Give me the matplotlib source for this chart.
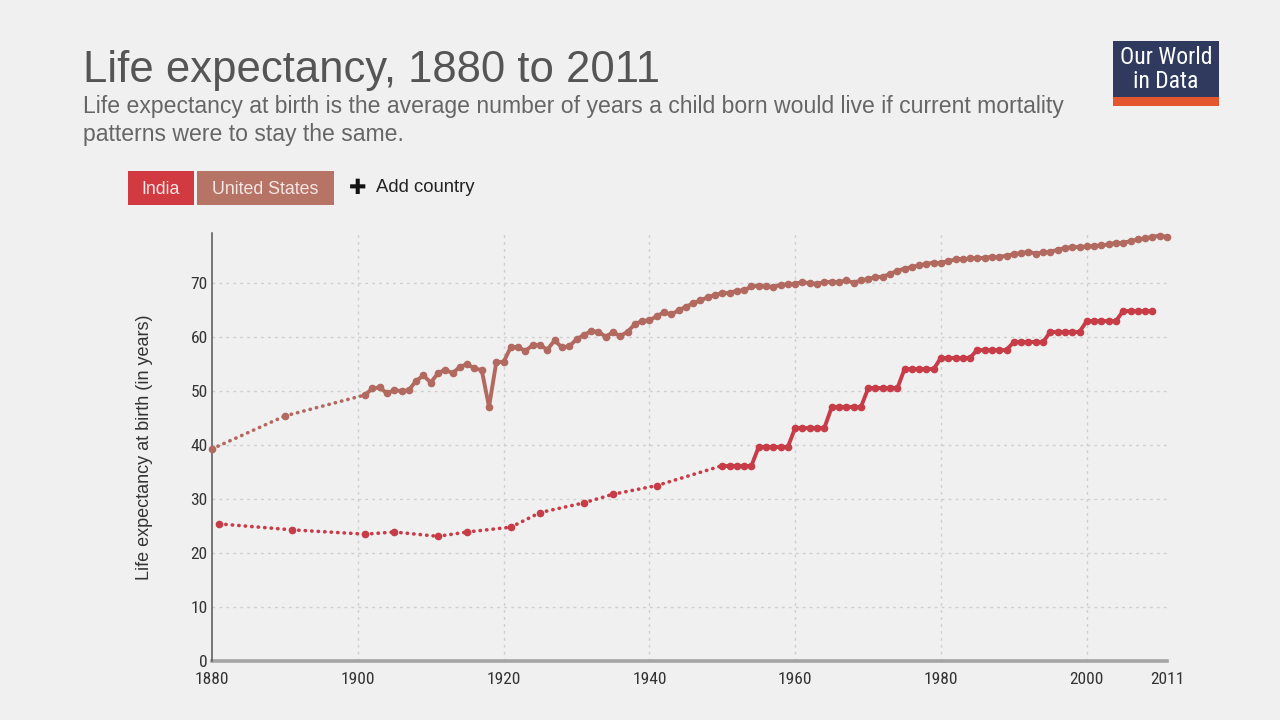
import matplotlib
matplotlib.use("Agg")
import matplotlib.pyplot as plt
from matplotlib.patches import Rectangle
from matplotlib import font_manager

# --- data ---
us_years = [1880, 1890] + list(range(1901, 2012))
us_values = [39.3, 45.4,
             49.3, 50.5, 50.7, 49.6, 50.2, 50.0, 50.2, 51.9, 52.9, 51.6,
             53.3, 54.0, 53.3, 54.5, 55.0, 54.2, 53.9, 47.1, 55.4, 55.4,
             58.2, 58.1, 57.5, 58.5, 58.5, 57.7, 59.4, 58.1, 58.3, 59.6,
             60.4, 61.1, 61.0, 60.1, 60.9, 60.2, 61.0, 62.4, 63.0, 63.1,
             63.9, 64.6, 64.2, 65.0, 65.6, 66.3, 66.8, 67.4, 67.8, 68.2,
             68.2, 68.6, 68.7, 69.4, 69.5, 69.4, 69.3, 69.7, 69.8, 69.9,
             70.2, 70.0, 69.9, 70.2, 70.2, 70.2, 70.5, 70.1, 70.5, 70.8,
             71.1, 71.2, 71.7, 72.3, 72.7, 73.0, 73.3, 73.6, 73.8, 73.8,
             74.1, 74.4, 74.4, 74.6, 74.7, 74.7, 74.9, 74.9, 75.1, 75.4,
             75.6, 75.8, 75.5, 75.7, 75.8, 76.2, 76.5, 76.7, 76.7, 76.8,
             76.9, 77.0, 77.2, 77.5, 77.5, 77.8, 78.1, 78.3, 78.6, 78.8,
             78.6]

india_years = [1881, 1891, 1901, 1905, 1911, 1915, 1921, 1925, 1931, 1935, 1941] + list(range(1950, 2010))
india_values = [25.4, 24.3, 23.5, 23.9, 23.1, 23.9, 24.8, 27.5, 29.3, 30.9, 32.5,
                36.2, 36.2, 36.2, 36.2, 36.2,
                39.7, 39.7, 39.7, 39.7, 39.7,
                43.2, 43.2, 43.2, 43.2, 43.2,
                47.0, 47.0, 47.0, 47.0, 47.0,
                50.5, 50.5, 50.5, 50.5, 50.5,
                54.1, 54.1, 54.1, 54.1, 54.1,
                56.2, 56.2, 56.2, 56.2, 56.2,
                57.7, 57.7, 57.7, 57.7, 57.7,
                59.1, 59.1, 59.1, 59.1, 59.1,
                61.0, 61.0, 61.0, 61.0, 61.0,
                63.0, 63.0, 63.0, 63.0, 63.0,
                64.9, 64.9, 64.9, 64.9, 64.9]

x_ticks = [1880, 1900, 1920, 1940, 1960, 1980, 2000, 2011]
y_ticks = [0, 10, 20, 30, 40, 50, 60, 70]

title = "Life expectancy, 1880 to 2011"
subtitle_lines = ["Life expectancy at birth is the average number of years a child born would live if current mortality",
                  "patterns were to stay the same."]

US_COLOR = "#b2695f"
INDIA_COLOR = "#c73c46"
BG = "#f0f0f0"

names = {f.name for f in font_manager.fontManager.ttflist}
NARROW = "Liberation Sans"
for cand in ["Liberation Sans Narrow", "Roboto Condensed", "Archivo Narrow", "PT Sans Narrow", "Arimo"]:
    if cand in names:
        NARROW = cand
        break
plt.rcParams["font.family"] = ["Liberation Sans", "DejaVu Sans"]


def draw_series(ax, years, values, color):
    # consecutive years get a solid line, gaps get a dotted one
    for i in range(len(years) - 1):
        x = [years[i], years[i + 1]]
        y = [values[i], values[i + 1]]
        if years[i + 1] - years[i] == 1:
            ax.plot(x, y, color=color, lw=2.8, solid_capstyle="round", zorder=3, clip_on=False)
        else:
            ax.plot(x, y, color=color, lw=2.6, ls=(0, (0.1, 1.7)), dash_capstyle="round",
                    zorder=3, clip_on=False)
    ax.plot(years, values, ls="none", marker="o", ms=4.5, color=color, zorder=4, clip_on=False)


fig = plt.figure(figsize=(12.8, 7.2), dpi=100, facecolor=BG)
ax = fig.add_axes([212 / 1280, 1 - 661 / 720, (1167 - 212) / 1280, (661 - 233) / 720])
ax.set_facecolor(BG)

draw_series(ax, us_years, us_values, US_COLOR)
draw_series(ax, india_years, india_values, INDIA_COLOR)

ax.set_xlim(1880, 2011)
ax.set_ylim(0, 79.3)
ax.set_xticks(x_ticks)
ax.set_yticks(y_ticks)
ax.tick_params(length=0, labelsize=12.5, colors="#333333", pad=8)
ax.tick_params(axis="y", pad=3)
for lab in ax.get_xticklabels() + ax.get_yticklabels():
    lab.set_family([NARROW, "DejaVu Sans"])

for x in x_ticks[1:-1]:
    ax.axvline(x, color="#cfcfcf", lw=1, ls=(0, (2, 3)), zorder=1)
for y in y_ticks[1:]:
    ax.axhline(y, color="#cfcfcf", lw=1, ls=(0, (2, 3)), zorder=1)
ax.axhline(0, color="#a5a5a5", lw=2.6, zorder=2, clip_on=False)

for side in ["top", "right", "bottom"]:
    ax.spines[side].set_visible(False)
ax.spines["left"].set_color("#555555")
ax.spines["left"].set_linewidth(1.1)

ax.set_ylabel("Life expectancy at birth (in years)", fontsize=13, color="#333333", labelpad=27)

# header
fig.text(83 / 1280, 1 - 82 / 720, title, fontsize=31.4, color="#555555", ha="left", va="baseline")
fig.text(83 / 1280, 1 - 113 / 720, subtitle_lines[0], fontsize=16.6, color="#666666", ha="left", va="baseline")
fig.text(83 / 1280, 1 - 141 / 720, subtitle_lines[1], fontsize=16.6, color="#666666", ha="left", va="baseline")


# legend buttons
def button(x0, x1, color, label):
    fig.add_artist(Rectangle((x0 / 1280, 1 - 205 / 720), (x1 - x0) / 1280, 34 / 720,
                             transform=fig.transFigure, facecolor=color, edgecolor="none"))
    fig.text((x0 + x1) / 2 / 1280, 1 - 189 / 720, label, fontsize=12.8, color="#f6e6e4",
             ha="center", va="center")


button(128, 194, "#d13a41", "India")
button(197, 334, "#b57466", "United States")
fig.text(358 / 1280, 1 - 188 / 720, "\u271a", fontsize=15, color="#111111", ha="center", va="center",
         family=["DejaVu Sans"])
fig.text(376 / 1280, 1 - 188 / 720, "Add country", fontsize=13.3, color="#222222", ha="left", va="center")

# logo
fig.add_artist(Rectangle((1113 / 1280, 1 - 97 / 720), 106 / 1280, 56 / 720,
                         transform=fig.transFigure, facecolor="#2f3a5e", edgecolor="none"))
fig.add_artist(Rectangle((1113 / 1280, 1 - 106 / 720), 106 / 1280, 9 / 720,
                         transform=fig.transFigure, facecolor="#e4572e", edgecolor="none"))
logo_size = 17 if NARROW != "Liberation Sans" else 16
fig.text(1166 / 1280, 1 - 58 / 720, "Our World", fontsize=logo_size, color="white", ha="center",
         va="center", family=[NARROW, "DejaVu Sans"])
fig.text(1166 / 1280, 1 - 81 / 720, "in Data", fontsize=logo_size, color="white", ha="center",
         va="center", family=[NARROW, "DejaVu Sans"])

fig.savefig("out.png", dpi=100, facecolor=BG)
